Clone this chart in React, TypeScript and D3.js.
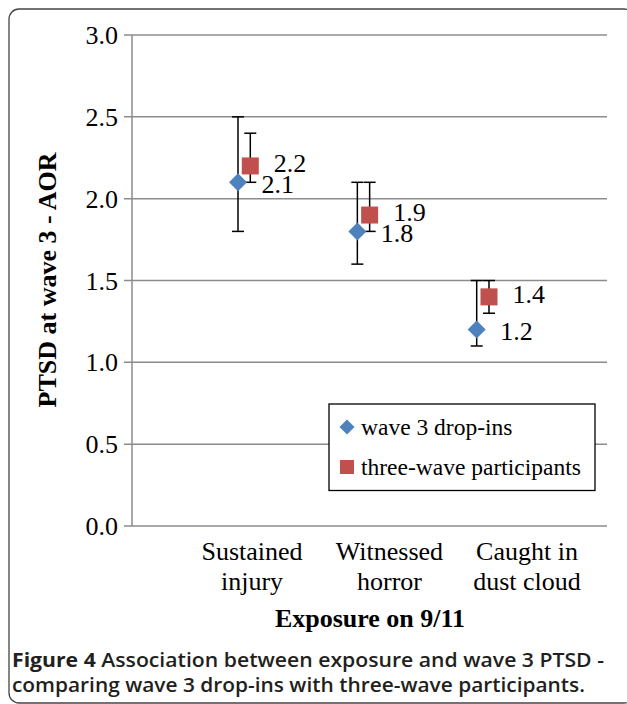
import React from "react";
import * as d3 from "d3";

const categories = [["Sustained", "injury"], ["Witnessed", "horror"], ["Caught in", "dust cloud"]];
const seriesNames = ["wave 3 drop-ins", "three-wave participants"];
const dropIns = [2.1, 1.8, 1.2];
const dropInsLow = [1.8, 1.6, 1.1];
const dropInsHigh = [2.5, 2.1, 1.5];
const threeWave = [2.2, 1.9, 1.4];
const threeWaveLow = [2.1, 1.8, 1.3];
const threeWaveHigh = [2.4, 2.1, 1.5];
const yTicks = [0, 0.5, 1, 1.5, 2, 2.5, 3];

const BLUE = "#4F81BD";
const RED = "#C0504D";
const SERIF = "'Liberation Serif', 'Times New Roman', serif";
const SANS = "'Open Sans', 'Noto Sans', sans-serif";

export default function App() {
  const W = 627, H = 704;
  const y = d3.scaleLinear().domain([0, 3]).range([526, 35]);
  const x = d3.scaleLinear().domain([1, 3]).range([238, 476.7]);
  const catX = d3.scalePoint<number>().domain([0, 1, 2]).range([252, 527]);
  const axisX = 132;
  const gridRight = 607;
  const offset = 0.103;

  const series = [
    { name: seriesNames[0], vals: dropIns, lo: dropInsLow, hi: dropInsHigh, color: BLUE, shift: 0, shape: "diamond", dy: 1.5 },
    { name: seriesNames[1], vals: threeWave, lo: threeWaveLow, hi: threeWaveHigh, color: RED, shift: offset, shape: "square", dy: -3 },
  ];

  const diamond = (cx: number, cy: number, r: number) =>
    `M${cx},${cy - r}L${cx + r},${cy}L${cx},${cy + r}L${cx - r},${cy}Z`;

  return (
    <svg width={W} height={H} style={{ position: "absolute", left: 0, top: 0, background: "#fff" }}>
      <rect x={9} y={9} width={625} height={694} rx={10} fill="none" stroke="#444" strokeWidth={1.3} />
      {/* gridlines */}
      {yTicks.map((t) => (
        <g key={t}>
          <line x1={axisX - 8} x2={gridRight} y1={y(t)} y2={y(t)} stroke="#8c8c8c" strokeWidth={1.5} />
          <text x={118} y={y(t)} dy="0.35em" textAnchor="end" fontFamily={SERIF} fontSize={26} fill="#000">
            {t.toFixed(1)}
          </text>
        </g>
      ))}
      <line x1={axisX} x2={axisX} y1={y(3)} y2={y(0)} stroke="#8c8c8c" strokeWidth={1.5} />

      {/* error bars */}
      {series.map((s, si) =>
        s.vals.map((v, i) => {
          const cx = x(i + 1 + s.shift);
          return (
            <g key={`e${si}-${i}`} stroke="#000" strokeWidth={1.5}>
              <line x1={cx} x2={cx} y1={y(s.hi[i])} y2={y(s.lo[i])} />
              <line x1={cx - 6} x2={cx + 6} y1={y(s.hi[i])} y2={y(s.hi[i])} />
              <line x1={cx - 6} x2={cx + 6} y1={y(s.lo[i])} y2={y(s.lo[i])} />
            </g>
          );
        })
      )}
      {/* markers */}
      {series.map((s, si) =>
        s.vals.map((v, i) => {
          const cx = x(i + 1 + s.shift);
          const cy = y(v);
          return s.shape === "diamond" ? (
            <path key={`m${si}-${i}`} d={diamond(cx, cy, 9)} fill={s.color} />
          ) : (
            <rect key={`m${si}-${i}`} x={cx - 8.5} y={cy - 8.5} width={17} height={17} fill={s.color} />
          );
        })
      )}
      {/* data labels */}
      {series.map((s, si) =>
        s.vals.map((v, i) => {
          const cx = x(i + 1 + s.shift);
          const cy = y(v);
          return (
            <text key={`l${si}-${i}`} x={cx + 23.5} y={cy + s.dy} dy="0.35em" fontFamily={SERIF} fontSize={26} fill="#000">
              {v.toFixed(1)}
            </text>
          );
        })
      )}

      {/* category labels */}
      {categories.map((c, i) => (
        <text key={`c${i}`} textAnchor="middle" fontFamily={SERIF} fontSize={26} fill="#000">
          <tspan x={catX(i)} y={560}>{c[0]}</tspan>
          <tspan x={catX(i)} y={590}>{c[1]}</tspan>
        </text>
      ))}

      {/* axis titles */}
      <text x={370} y={627} textAnchor="middle" fontFamily={SERIF} fontSize={26} fontWeight="bold" fill="#000">
        Exposure on 9/11
      </text>
      <text transform={`translate(47,280) rotate(-90)`} textAnchor="middle" dy="0.35em" fontFamily={SERIF} fontSize={26} fontWeight="bold" fill="#000">
        PTSD at wave 3 - AOR
      </text>

      {/* legend */}
      <rect x={329} y={404} width={266} height={86.5} fill="#fff" stroke="#000" strokeWidth={1.3} />
      <path d={diamond(347, 427, 7.5)} fill={BLUE} />
      <text x={361} y={427} dy="0.35em" fontFamily={SERIF} fontSize={23.5} fill="#000">{seriesNames[0]}</text>
      <rect x={340} y={460} width={14} height={14} fill={RED} />
      <text x={361} y={467} dy="0.35em" fontFamily={SERIF} fontSize={23.5} fill="#000">{seriesNames[1]}</text>

      {/* caption */}
      <text x={12} y={667} fontFamily={SANS} fontSize={19} fill="#231f20" textLength={592} lengthAdjust="spacingAndGlyphs">
        <tspan fontWeight="bold">Figure 4</tspan>
        <tspan fontWeight="600"> Association between exposure and wave 3 PTSD -</tspan>
      </text>
      <text x={12} y={692} fontFamily={SANS} fontSize={19} fontWeight="600" fill="#231f20" textLength={573} lengthAdjust="spacingAndGlyphs">
        comparing wave 3 drop-ins with three-wave participants.
      </text>
    </svg>
  );
}
